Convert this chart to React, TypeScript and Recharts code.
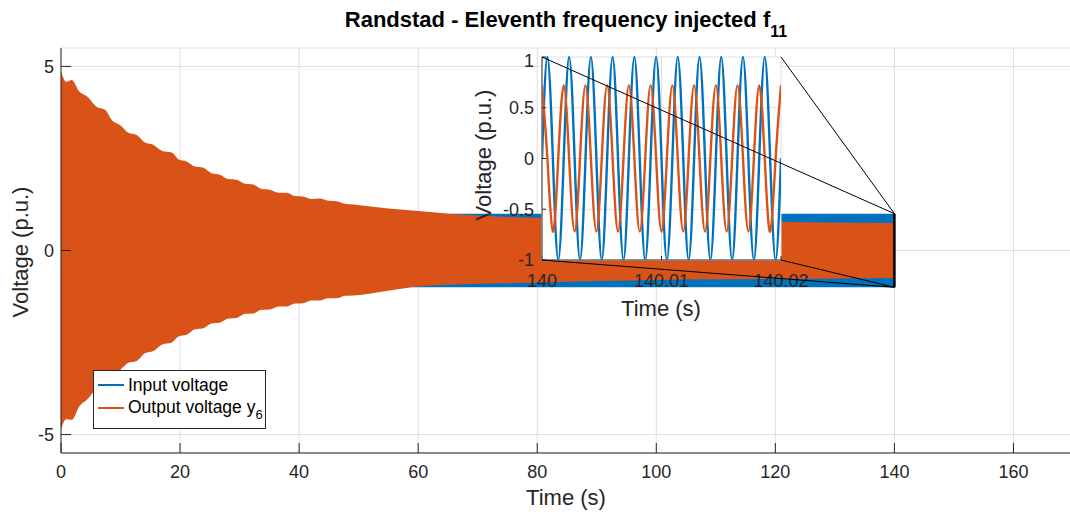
import React from 'react';
import {
  ComposedChart,
  LineChart,
  Area,
  Line,
  XAxis,
  YAxis,
  CartesianGrid,
} from 'recharts';

const FONT = '"Liberation Sans", Arial, Helvetica, sans-serif';
const BLUE = '#0072BD';
const ORANGE = '#D95319';
const AXIS = '#262626';
const GRID = '#dfdfdf';

// main view: the signals oscillate far too fast to see, so keep the envelopes
const envT = [
  0, 0.9, 1.8, 3.1, 4.4, 5.9, 7.4, 8.6, 9.9, 11.3, 12.7, 14.1, 15.5, 17.0, 18.6, 19.8, 21.1, 22.5,
  23.9, 25.3, 26.7, 28.1, 29.5, 30.9, 32.3, 33.7, 35.1, 36.5, 37.9, 39.3, 40.7, 42.1, 43.5, 44.9,
  46.3, 47.7, 49.1, 55, 60, 65, 70, 75, 80, 90, 100, 110, 120, 130, 140,
];
const outHi = [
  4.86, 4.58, 4.63, 4.31, 4.18, 3.91, 3.82, 3.53, 3.41, 3.2, 3.14, 2.93, 2.87, 2.7, 2.66, 2.47, 2.42, 2.28,
  2.25, 2.1, 2.06, 1.94, 1.92, 1.81, 1.79, 1.67, 1.65, 1.57, 1.57, 1.48, 1.47, 1.4, 1.41, 1.35,
  1.34, 1.27, 1.25, 1.14, 1.07, 1.0, 0.95, 0.91, 0.89, 0.85, 0.82, 0.8, 0.78, 0.76, 0.75,
];
const outLo = [
  -4.85, -4.58, -4.6, -4.23, -4.05, -3.76, -3.65, -3.36, -3.25, -3.05, -3.0, -2.79, -2.73, -2.55, -2.5, -2.33, -2.29, -2.14,
  -2.11, -1.98, -1.96, -1.85, -1.83, -1.72, -1.71, -1.61, -1.6, -1.52, -1.52, -1.44, -1.43, -1.36, -1.36, -1.3,
  -1.3, -1.23, -1.22, -1.09, -0.98, -0.93, -0.9, -0.89, -0.87, -0.83, -0.8, -0.78, -0.77, -0.76, -0.75,
];
const inAmp = 1; // input voltage stays at ±1 p.u.

const xTicks = [0, 20, 40, 60, 80, 100, 120, 140, 160];
const yTicks = [-5, 0, 5];

// zoom at 140 s, quarter-period samples of the 550 Hz waves
const zoomT = [
  140, 140.00045, 140.00091, 140.00136, 140.00182, 140.00227, 140.00273, 140.00318, 140.00364,
  140.00409, 140.00455, 140.005, 140.00545, 140.00591, 140.00636, 140.00682, 140.00727, 140.00773,
  140.00818, 140.00864, 140.00909, 140.00955, 140.01, 140.01045, 140.01091, 140.01136, 140.01182,
  140.01227, 140.01273, 140.01318, 140.01364, 140.01409, 140.01455, 140.015, 140.01545, 140.01591,
  140.01636, 140.01682, 140.01727, 140.01773, 140.01818, 140.01864, 140.01909, 140.01955, 140.02,
];
const zoomIn = [
  0, 1, 0, -1, 0, 1, 0, -1, 0, 1, 0, -1, 0, 1, 0, -1, 0, 1, 0, -1, 0, 1, 0, -1,
  0, 1, 0, -1, 0, 1, 0, -1, 0, 1, 0, -1, 0, 1, 0, -1, 0, 1, 0, -1, 0,
];
const zoomOut = [
  0.72, 0, -0.72, 0, 0.72, 0, -0.72, 0, 0.72, 0, -0.72, 0, 0.72, 0, -0.72, 0, 0.72, 0, -0.72, 0, 0.72, 0, -0.72, 0,
  0.72, 0, -0.72, 0, 0.72, 0, -0.72, 0, 0.72, 0, -0.72, 0, 0.72, 0, -0.72, 0, 0.72, 0, -0.72, 0, 0.72,
];
const zoomXTicks = [140, 140.01, 140.02];
const zoomYTicks = [-1, -0.5, 0, 0.5, 1];

const seriesNames = ['Input voltage', 'Output voltage y'];

const mainRows = envT.map((t, i) => ({ t, out: [outLo[i], outHi[i]], inp: [-inAmp, inAmp] }));
const zoomRows = zoomT.map((t, i) => ({ t, inp: zoomIn[i], out: zoomOut[i] }));

// layout
const W = 1073;
const H = 514;
const PLOT = { left: 61, right: 1073, top: 48, bottom: 453 };
const X_DOM = [0, 170];
const Y_DOM = [-5.5, 5.5];
const INSET = { left: 542, right: 781, top: 57, bottom: 260 };
const ZOOM_AT = 140;

const tToPx = (t: number) => PLOT.left + ((t - X_DOM[0]) / (X_DOM[1] - X_DOM[0])) * (PLOT.right - PLOT.left);
const vToPx = (v: number) => PLOT.top + ((Y_DOM[1] - v) / (Y_DOM[1] - Y_DOM[0])) * (PLOT.bottom - PLOT.top);

const tickStyle = { fill: AXIS, fontSize: 18, fontFamily: FONT };

function MainChart() {
  return (
    <ComposedChart width={W} height={H} data={mainRows} margin={{ top: PLOT.top, right: 0, bottom: 0, left: 0 }}>
      <CartesianGrid stroke={GRID} />
      <XAxis dataKey="t" type="number" domain={X_DOM} ticks={xTicks} height={61} tickSize={-10} tickMargin={22}
        stroke={AXIS} tick={tickStyle} allowDataOverflow />
      <XAxis xAxisId="top" orientation="top" type="number" domain={X_DOM} ticks={xTicks} height={0}
        tickSize={-10} tick={false} stroke={AXIS} />
      <YAxis type="number" domain={Y_DOM} ticks={yTicks} width={61} tickSize={-10} tickMargin={17}
        stroke={AXIS} tick={tickStyle} />
      <YAxis yAxisId="right" orientation="right" type="number" domain={Y_DOM} ticks={yTicks} width={0}
        tickSize={-10} tick={false} stroke={AXIS} />
      <Area dataKey="inp" type="linear" fill={BLUE} fillOpacity={1} stroke="none" dot={false} activeDot={false} isAnimationActive={false} />
      <Area dataKey="out" type="monotone" fill={ORANGE} fillOpacity={1} stroke="none" dot={false} activeDot={false} isAnimationActive={false} />
    </ComposedChart>
  );
}

function ZoomChart() {
  const boxLine = { stroke: '#707070', strokeWidth: 1.5 };
  return (
    <LineChart width={350} height={270} data={zoomRows} margin={{ top: 7, right: 39, bottom: 0, left: 0 }}>
      <CartesianGrid stroke={GRID} fill="#fff" />
      <XAxis dataKey="t" type="number" domain={[140, 140.02]} ticks={zoomXTicks} height={60} tickSize={-4}
        tickMargin={18} axisLine={boxLine} tickLine={{ stroke: AXIS }} tick={tickStyle} allowDataOverflow />
      <XAxis xAxisId="top" orientation="top" type="number" domain={[140, 140.02]} ticks={zoomXTicks} height={0}
        tick={false} tickSize={-4} axisLine={boxLine} tickLine={{ stroke: AXIS }} />
      <YAxis type="number" domain={[-1, 1]} ticks={zoomYTicks} width={72} tickSize={-4} tickMargin={12}
        axisLine={boxLine} tickLine={{ stroke: AXIS }} tick={tickStyle} />
      <YAxis yAxisId="right" orientation="right" type="number" domain={[-1, 1]} ticks={zoomYTicks} width={0}
        tick={false} tickSize={-4} axisLine={boxLine} tickLine={{ stroke: AXIS }} />
      <Line dataKey="inp" type="natural" stroke={BLUE} strokeWidth={2.4} dot={false} isAnimationActive={false} />
      <Line dataKey="out" type="natural" stroke={ORANGE} strokeWidth={2.4} dot={false} isAnimationActive={false} />
    </LineChart>
  );
}

function Legend() {
  const row = (name: string, color: string, top: number, sub?: string) => (
    <div style={{ position: 'absolute', left: 0, top, height: 20, display: 'flex', alignItems: 'center' }}>
      <span style={{ display: 'inline-block', marginLeft: 4, width: 26, height: 2, background: color }} />
      <span style={{ marginLeft: 4, fontSize: 17.5, color: '#000', whiteSpace: 'nowrap', lineHeight: '20px' }}>
        {name}
        {sub && <span style={{ fontSize: 13, position: 'relative', top: 6 }}>{sub}</span>}
      </span>
    </div>
  );
  return (
    <div style={{ position: 'absolute', left: 93, top: 370, width: 171, height: 57, background: '#fff',
      border: `1px solid ${AXIS}`, fontFamily: FONT }}>
      {row(seriesNames[0], BLUE, 4)}
      {row(seriesNames[1], ORANGE, 27, '6')}
    </div>
  );
}

// title, axis labels and the zoom box with its connector lines (drawn on top of the inset)
function Overlay() {
  const label = { fontFamily: FONT, fontSize: 22, fill: AXIS, textAnchor: 'middle' as const };
  const zx = tToPx(ZOOM_AT);
  const zTop = vToPx(inAmp);
  const zBot = vToPx(-inAmp);
  const links = [
    [INSET.left, INSET.top, zTop],
    [INSET.right, INSET.top, zTop],
    [INSET.left, INSET.bottom, zBot],
    [INSET.right, INSET.bottom, zBot],
  ];
  return (
    <svg width={1070} height={514} style={{ position: 'absolute', left: 0, top: 0, pointerEvents: 'none' }}>
      {links.map(([x, y, y2], i) => (
        <line key={i} x1={x} y1={y} x2={zx} y2={y2} stroke="#000" strokeWidth={1} />
      ))}
      <line x1={zx} y1={zTop} x2={zx} y2={zBot} stroke="#000" strokeWidth={2.5} />
      <text x={566} y={27} fontFamily={FONT} fontSize={22} fontWeight="bold" fill="#000" textAnchor="middle">
        Randstad - Eleventh frequency injected f
        <tspan fontSize={16} dy={10}>11</tspan>
      </text>
      <text {...label} x={566} y={505}>Time (s)</text>
      <text {...label} x={28} y={252} transform="rotate(-90 28 252)">Voltage (p.u.)</text>
      <text {...label} x={661} y={316}>Time (s)</text>
      <text {...label} x={491} y={155} transform="rotate(-90 491 155)">Voltage (p.u.)</text>
    </svg>
  );
}

export default function App() {
  return (
    <div style={{ position: 'absolute', left: 0, top: 0, width: 1070, height: 514, overflow: 'hidden',
      background: '#fff', fontFamily: FONT }}>
      <div style={{ position: 'absolute', left: 0, top: 0 }}>
        <MainChart />
      </div>
      <Legend />
      <div style={{ position: 'absolute', left: 470, top: 50 }}>
        <ZoomChart />
      </div>
      <Overlay />
    </div>
  );
}
